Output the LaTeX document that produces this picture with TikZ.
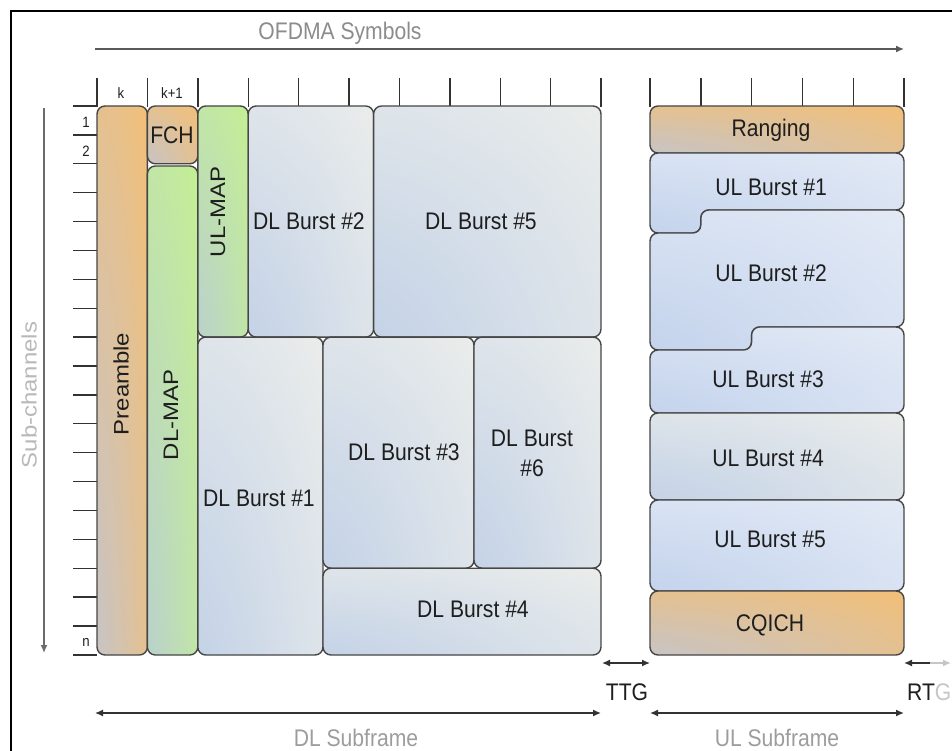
\documentclass[tikz,border=0pt]{standalone}
\usepackage{fontspec}
\setmainfont{Liberation Sans}[FakeStretch=0.88]
\newfontfamily\rotfont{Liberation Sans}[FakeStretch=1.14]
\usetikzlibrary{arrows.meta}
\definecolor{ormain}{RGB}{248,190,108}
\definecolor{orblue}{RGB}{186,198,222}
\definecolor{grmain}{RGB}{198,243,140}
\definecolor{grblue}{RGB}{182,200,222}
\definecolor{dlmain}{RGB}{239,240,235}
\definecolor{dlblue}{RGB}{184,202,230}
\definecolor{ulmain}{RGB}{231,237,247}
\definecolor{ulblue}{RGB}{186,204,233}
\definecolor{edge}{RGB}{70,70,70}
\definecolor{tickc}{RGB}{50,50,50}
\definecolor{txt}{RGB}{30,30,30}
\definecolor{ltxt}{RGB}{140,140,140}
\definecolor{lltxt}{RGB}{185,185,185}
\colorlet{cA}{dlmain}
\colorlet{cB}{dlblue}
\pgfdeclareradialshading[cA,cB]{cornershade}{\pgfpoint{-50bp}{-50bp}}{color(0bp)=(cB); color(8bp)=(cB); color(78bp)=(cA); color(150bp)=(cA)}
\tikzset{
  blk/.style 2 args={draw=edge, line width=1.4pt, rounded corners=8pt,
    /utils/exec={\colorlet{cA}{#1}\colorlet{cB}{#2}}, shade, shading=cornershade},
  lab/.style={text=txt, font=\fontsize{24}{30}\selectfont, align=center, inner sep=0pt},
  rlab/.style={text=txt, font=\rotfont\fontsize{21}{24}\selectfont, rotate=90, inner sep=0pt},
  smalllab/.style={text=txt, font=\fontsize{15}{16}\selectfont, inner sep=0pt},
  tickline/.style={draw=tickc, line width=1.4pt},
  dimarrow/.style={draw=tickc, line width=1.4pt, {Latex[length=8pt,width=7pt]}-{Latex[length=8pt,width=7pt]}},
}
\begin{document}
\begin{tikzpicture}[x=1pt,y=-1pt]
\useasboundingbox (0,0) rectangle (952,751);
\clip (0,0) rectangle (952,751);
\fill[white] (0,0) rectangle (952,751);
% frame
\draw[black, line width=2.4pt] (11,770) -- (11,11) -- (970,11);

% column ticks
\foreach \i in {0,...,10} \draw[tickline] (97+50.4*\i,78) -- (97+50.4*\i,107);
\foreach \i in {0,...,5} \draw[tickline] (650+50.8*\i,78) -- (650+50.8*\i,107);
% row ticks
\foreach \j in {0,...,19} \draw[tickline] (73,106+28.89*\j) -- (97,106+28.89*\j);

% DL blocks
\draw[blk={ormain}{orblue}] (97,106) rectangle (147.4,655);
\draw[blk={ormain}{orblue}] (147.4,106) rectangle (197.8,163.8);
\draw[blk={grmain}{grblue}] (147.4,166) rectangle (197.8,655);
\draw[blk={grmain}{grblue}] (197.8,106) rectangle (248.2,337.1);
\draw[blk={dlmain}{dlblue}] (248.2,106) rectangle (373.6,337.1);
\draw[blk={dlmain}{dlblue}] (373.6,106) rectangle (601,337.1);
\draw[blk={dlmain}{dlblue}] (197.8,337.1) rectangle (323,655);
\draw[blk={dlmain}{dlblue}] (323,337.1) rectangle (474,568.2);
\draw[blk={dlmain}{dlblue}] (474,337.1) rectangle (601,568.2);
\draw[blk={dlmain}{dlblue}] (323,568.2) rectangle (601,655);

% UL blocks
\draw[blk={ormain}{orblue}] (650,106) rectangle (904,153);
\draw[blk={ulmain}{ulblue}] (650,153) -- (904,153) -- (904,210) -- (700.8,210) -- (700.8,233) -- (650,233) -- cycle;
\draw[blk={ulmain}{ulblue}] (650,233) -- (700.8,233) -- (700.8,210) -- (904,210) -- (904,327) -- (751.6,327) -- (751.6,350) -- (650,350) -- cycle;
\draw[blk={ulmain}{ulblue}] (650,350) -- (751.6,350) -- (751.6,327) -- (904,327) -- (904,413) -- (650,413) -- cycle;
\draw[blk={dlmain}{dlblue}] (650,413) rectangle (904,500);
\draw[blk={ulmain}{ulblue}] (650,500) rectangle (904,591);
\draw[blk={ormain}{orblue}] (650,591) rectangle (904,655);

% block labels
\node[rlab] (pre) at (121,384) {Preamble};
\node[lab] (fch) at (172,135) {FCH};
\node[rlab] (dlmap) at (171,415) {DL-MAP};
\node[rlab] (ulmap) at (218,212) {UL-MAP};
\node[lab] (dl2) at (309,221) {DL Burst \#2};
\node[lab] (dl5) at (481,221) {DL Burst \#5};
\node[lab] (dl1) at (259,498) {DL Burst \#1};
\node[lab] (dl3) at (404,452) {DL Burst \#3};
\node[lab] (dl6) at (532,453) {DL Burst\\\#6};
\node[lab] (dl4) at (473,609) {DL Burst \#4};
\node[lab] (rng) at (771,130) {Ranging};
\node[lab] (ul1) at (771,187) {UL Burst \#1};
\node[lab] (ul2) at (771,273) {UL Burst \#2};
\node[lab] (ul3) at (768,379) {UL Burst \#3};
\node[lab] (ul4) at (768,458) {UL Burst \#4};
\node[lab] (ul5) at (770,539) {UL Burst \#5};
\node[lab] (cqi) at (770,625) {CQICH};

% small labels
\node[smalllab] (lk) at (121,93) {k};
\node[smalllab] (lk1) at (172,93) {k+1};
\node[smalllab] (r1) at (86,122) {1};
\node[smalllab] (r2) at (86,151) {2};
\node[smalllab] (rn) at (86,642) {n};

% OFDMA symbols axis
\coordinate (oL) at (95,49);
\coordinate (oR) at (904,49);
\draw[draw=gray!70!black, line width=1.4pt, -{Latex[length=8pt,width=7pt]}] (oL) -- (oR);
\node[lab, text=ltxt] (ofdma) at (340,33) {OFDMA Symbols};

% Sub-channels axis
\coordinate (sT) at (44,108);
\coordinate (sB) at (44,653);
\draw[draw=gray!85!black, line width=1.4pt, -{Latex[length=8pt,width=7pt]}] (sT) -- (sB);
\node[rlab, text=lltxt] (subch) at (29,395) {Sub-channels};

% TTG
\coordinate (tL) at (602,663);
\coordinate (tR) at (650,663);
\draw[dimarrow] (tL) -- (tR);
\node[lab] (ttg) at (627,692) {TTG};

% RTG
\coordinate (rL) at (904,663);
\coordinate (rM) at (930,663);
\coordinate (rR) at (951,663);
\draw[draw=tickc, line width=1.4pt, {Latex[length=8pt,width=7pt]}-] (rL) -- (rM);
\draw[draw=gray!45, line width=1.4pt, -{Latex[length=8pt,width=7pt]}] (rM) -- (rR);
\node[lab, anchor=west] (rtg) at (907,692) {RT\textcolor{gray!45}{G}};

% subframes
\coordinate (dL) at (95,713);
\coordinate (dR) at (601,713);
\draw[dimarrow] (dL) -- (dR);
\node[lab, text=lltxt!85!black, anchor=base] (dls) at (356,746) {DL Subframe};
\coordinate (uL) at (650,713);
\coordinate (uR) at (904,713);
\draw[dimarrow] (uL) -- (uR);
\node[lab, text=lltxt!85!black, anchor=base] (uls) at (777,746) {UL Subframe};
\end{tikzpicture}
\end{document}
